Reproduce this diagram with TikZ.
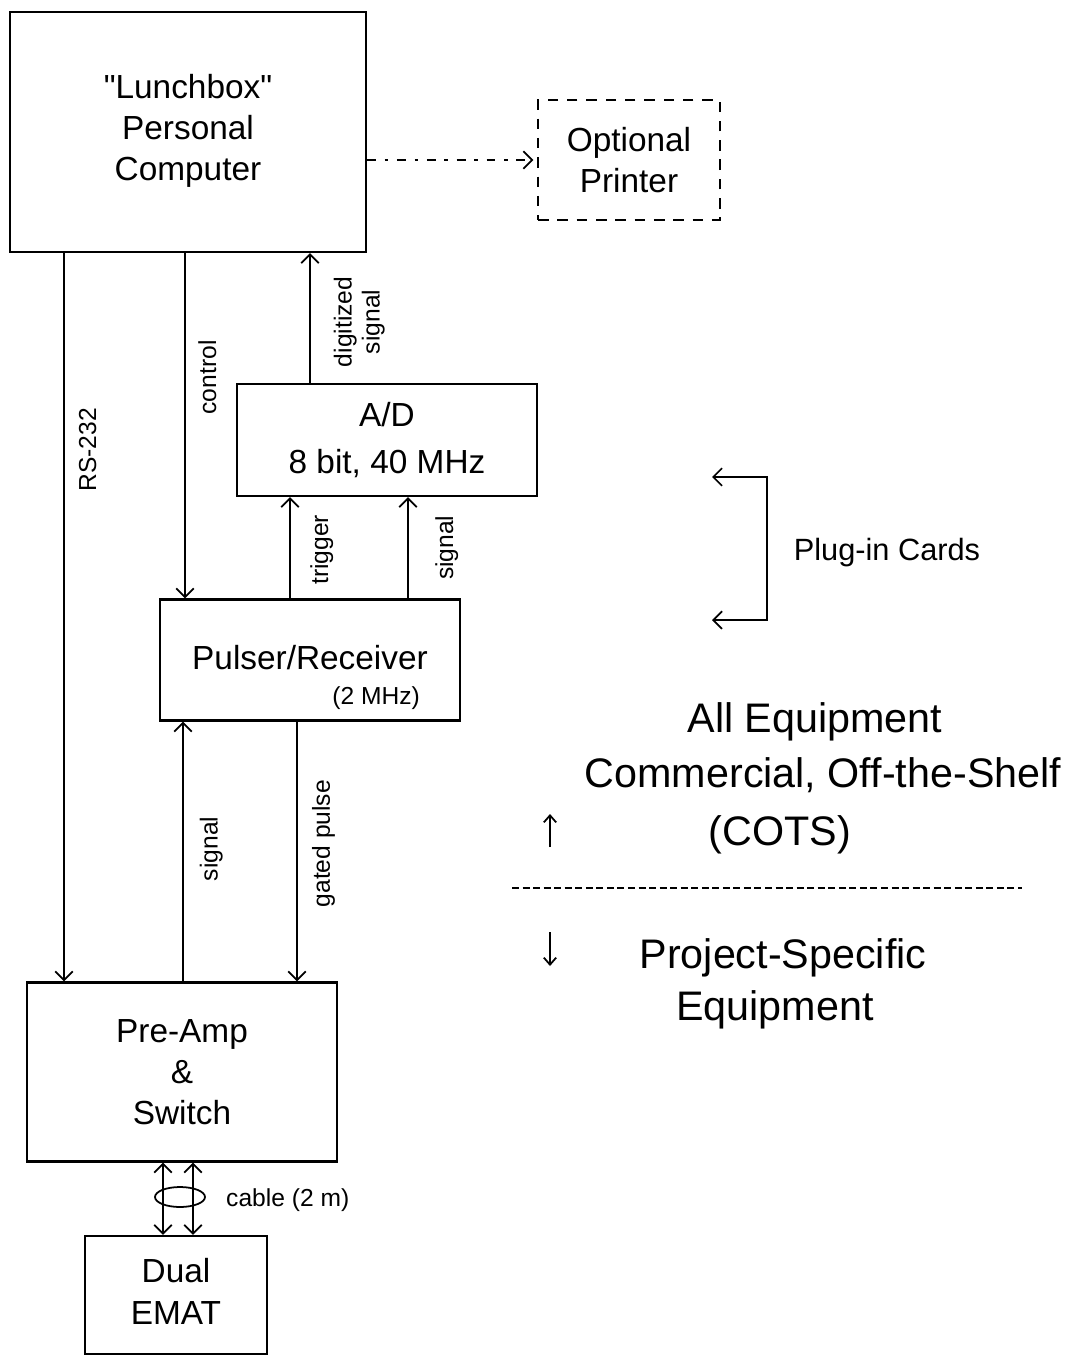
\documentclass[tikz,border=0pt]{standalone}
\usepackage{fontspec}
\setmainfont{Liberation Sans}
\usetikzlibrary{arrows.meta,positioning}

\tikzset{
  block/.style={draw, line width=1.3pt, align=center, inner sep=0pt,
    font=\fontsize{19}{23.5}\selectfont},
  wire/.style={line width=1pt},
  tip/.style={-{Straight Barb[length=5pt,width=10pt]}},
  lbl/.style={font=\fontsize{14}{16}\selectfont},
  vlbl/.style={lbl, rotate=90, anchor=north, inner xsep=0pt, align=center},
  big/.style={font=\fontsize{23.5}{28}\selectfont},
}

\begin{document}
\begin{tikzpicture}[x=0.02cm, y=-0.02cm]
  \useasboundingbox (0,0) rectangle (1068,1356);

  % boxes
  \node[block, minimum width=7.12cm, minimum height=4.8cm] (pc) at (188,132)
    {\raisebox{5pt}{\textquotedbl Lunchbox\textquotedbl}\\\raisebox{5pt}{Personal}\\\raisebox{5pt}{Computer}};
  \node[block, dash pattern=on 6pt off 5pt, minimum width=3.64cm, minimum height=2.4cm] (prn) at (629,160)
    {Optional\\Printer};
  \node[block, minimum width=6cm, minimum height=2.24cm] (ad) at (387,440)
    {A/D\\[3pt]8 bit, 40 MHz};
  \node[block, minimum width=6cm, minimum height=2.42cm] (pr) at (310,660)
    {\raisebox{3pt}{Pulser/Receiver}};
  \node[lbl, anchor=south east] (prf) at ([xshift=-0.7cm, yshift=0.12cm]pr.south east) {(2 MHz)};
  \node[block, minimum width=6.2cm, minimum height=3.58cm] (amp) at (182,1072)
    {Pre-Amp\\\&\\Switch};
  \node[block, minimum width=3.64cm, minimum height=2.36cm] (emat) at (176,1295)
    {\raisebox{4pt}{Dual}\\\raisebox{4pt}{EMAT}};

  % connectors
  \draw[wire, dash pattern=on 5pt off 5pt on 2pt off 5pt, tip, shorten >=2pt]
    (pc.east |- prn.west) -- (prn.west);
  \draw[wire, tip] (pc.south -| 64,0) -- (amp.north -| 64,0)
    node[vlbl, pos=0.27, inner ysep=8pt] {RS-232};
  \draw[wire, tip] (pc.south -| 185,0) -- (pr.north -| 185,0)
    node[vlbl, pos=0.36, inner ysep=7pt] {control};
  \draw[wire, tip] (ad.north -| 310,0) -- (pc.south -| 310,0)
    node[vlbl, pos=0.47, inner ysep=13pt] {digitized\\signal};
  \draw[wire, tip] (pr.north -| 290,0) -- (ad.south -| 290,0)
    node[vlbl, pos=0.48, inner ysep=11pt] {trigger};
  \draw[wire, tip] (pr.north -| 408,0) -- (ad.south -| 408,0)
    node[vlbl, pos=0.5, inner ysep=15pt] {signal};
  \draw[wire, tip] (amp.north -| 183,0) -- (pr.south -| 183,0)
    node[vlbl, pos=0.51, inner ysep=9pt] {signal};
  \draw[wire, tip] (pr.south -| 297,0) -- (amp.north -| 297,0)
    node[vlbl, pos=0.47, inner ysep=8pt] {gated pulse};

  % cable
  \draw[wire, {Straight Barb[length=5pt,width=10pt]}-{Straight Barb[length=5pt,width=10pt]}]
    (amp.south -| 163,0) -- (emat.north -| 163,0);
  \draw[wire, {Straight Barb[length=5pt,width=10pt]}-{Straight Barb[length=5pt,width=10pt]}]
    (amp.south -| 193,0) -- (emat.north -| 193,0);
  \draw[wire] (180,1197) ellipse [x radius=25, y radius=10];
  \node[lbl, anchor=west] (cable) at (220,1200) {cable (2 m)};

  % plug-in cards
  \node[lbl, font=\fontsize{17.5}{20}\selectfont] (plug) at (887,553) {Plug-in Cards};
  \draw[wire, {Straight Barb[length=5pt,width=10pt]}-{Straight Barb[length=5pt,width=10pt]}]
    (712,477) -- (767,477) -- (767,620) -- (712,620);

  % COTS / project-specific
  \node[big] (alleq) at (815,722) {All Equipment};
  \node[big] (cots) at (823,775) {Commercial, Off-the-Shelf};
  \node[big] (cotsab) at (780,835) {(COTS)};
  \node[big] (proj) at (783,958) {Project-Specific};
  \node[big] (equip) at (775,1010) {Equipment};
  \draw[wire, -{Straight Barb[length=4pt,width=7pt]}] (550,847) -- (550,814);
  \draw[wire, -{Straight Barb[length=4pt,width=7pt]}] (550,932) -- (550,966);
  \draw[wire, dash pattern=on 4pt off 2pt] (512,888) -- (1022,888);
\end{tikzpicture}
\end{document}
